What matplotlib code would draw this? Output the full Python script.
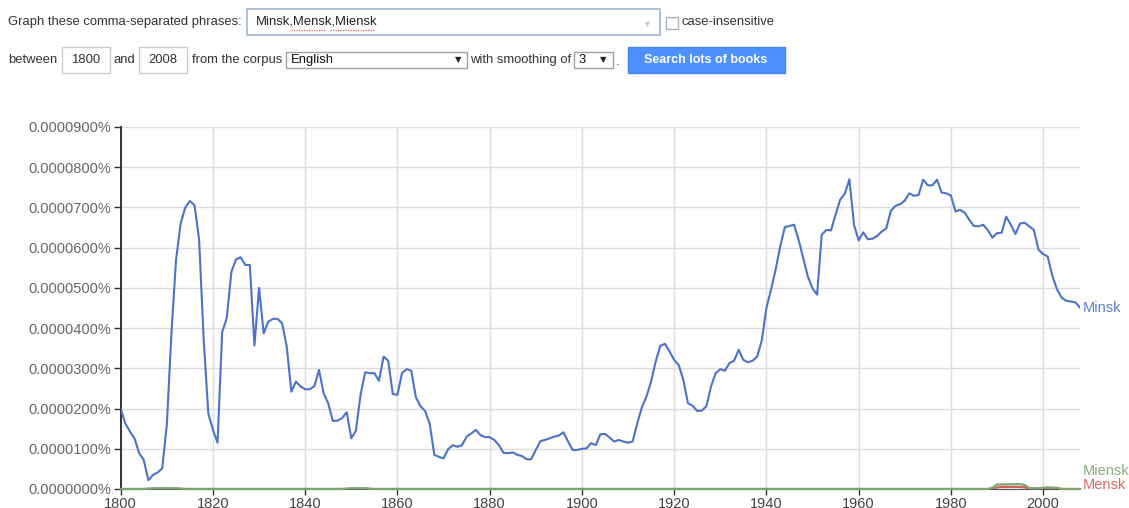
import matplotlib.pyplot as plt
from matplotlib.patches import Rectangle
from matplotlib.lines import Line2D

W, H = 1129, 508

# values in units of 0.00001 %
years = list(range(1800, 2009))
minsk = [2.0, 1.63, 1.43, 1.26, 0.89, 0.72, 0.22, 0.35, 0.41, 0.51,
         1.6, 3.87, 5.7, 6.6, 7.0, 7.16, 7.06, 6.2, 3.7, 1.88,
         1.47, 1.15, 3.9, 4.25, 5.4, 5.71, 5.76, 5.57, 5.57, 3.57,
         5.0, 3.87, 4.16, 4.23, 4.23, 4.12, 3.54, 2.42, 2.67, 2.55,
         2.48, 2.48, 2.56, 2.96, 2.38, 2.13, 1.69, 1.70, 1.76, 1.91,
         1.26, 1.45, 2.34, 2.9, 2.88, 2.88, 2.69, 3.29, 3.19, 2.36,
         2.34, 2.88, 2.98, 2.94, 2.28, 2.06, 1.94, 1.62, 0.85, 0.80,
         0.76, 0.99, 1.09, 1.05, 1.09, 1.30, 1.38, 1.47, 1.34, 1.29,
         1.29, 1.22, 1.09, 0.90, 0.89, 0.91, 0.85, 0.82, 0.74, 0.74,
         0.97, 1.19, 1.22, 1.26, 1.30, 1.33, 1.41, 1.18, 0.97, 0.97,
         1.0, 1.01, 1.14, 1.09, 1.36, 1.37, 1.28, 1.18, 1.22, 1.18,
         1.15, 1.18, 1.63, 2.03, 2.30, 2.67, 3.17, 3.56, 3.61, 3.42,
         3.21, 3.08, 2.71, 2.13, 2.07, 1.94, 1.95, 2.06, 2.55, 2.88,
         2.98, 2.94, 3.13, 3.19, 3.46, 3.21, 3.15, 3.19, 3.29, 3.69,
         4.5, 4.95, 5.45, 6.03, 6.51, 6.54, 6.57, 6.19, 5.74, 5.28,
         4.99, 4.83, 6.32, 6.44, 6.43, 6.82, 7.19, 7.34, 7.70, 6.57,
         6.18, 6.38, 6.21, 6.22, 6.29, 6.40, 6.48, 6.92, 7.04, 7.08,
         7.17, 7.35, 7.29, 7.31, 7.69, 7.55, 7.55, 7.69, 7.37, 7.35,
         7.30, 6.90, 6.94, 6.87, 6.69, 6.54, 6.53, 6.57, 6.44, 6.25,
         6.36, 6.37, 6.77, 6.57, 6.34, 6.60, 6.62, 6.53, 6.44, 5.95,
         5.84, 5.78, 5.30, 4.97, 4.76, 4.68, 4.66, 4.64, 4.51]

mensk_years = [1800, 1989, 1990, 1991, 1995, 1996, 1997, 1999, 2000, 2003, 2004, 2008]
mensk = [0.0, 0.0, 0.04, 0.05, 0.05, 0.04, 0.0, 0.0, 0.02, 0.02, 0.0, 0.0]

miensk_years = [1800, 1805, 1807, 1812, 1814, 1848, 1850, 1853, 1855,
                1988, 1989, 1990, 1995, 1996, 1997, 1999, 2001, 2003, 2004, 2008]
miensk = [0.0, 0.0, 0.02, 0.02, 0.0, 0.0, 0.02, 0.02, 0.0,
          0.0, 0.03, 0.11, 0.12, 0.1, 0.02, 0.02, 0.04, 0.03, 0.0, 0.0]

x_ticks = list(range(1800, 2001, 20))
y_ticks = list(range(0, 10))

BLUE = '#4a73c9'
RED = '#d0605a'
GREEN = '#7ea56f'

plt.rcParams['font.family'] = ['Liberation Sans', 'DejaVu Sans']

fig = plt.figure(figsize=(W / 100, H / 100), dpi=100)


def fx(x):
    return x / W


def fy(y):
    return 1 - y / H


def box(x0, y0, x1, y1, ec='#cccccc', fc='white', lw=1.0):
    fig.patches.append(Rectangle((fx(x0), fy(y1)), fx(x1) - fx(x0), fy(y0) - fy(y1),
                                 transform=fig.transFigure, ec=ec, fc=fc, lw=lw))


def txt(x, y, s, **kw):
    kw.setdefault('fontsize', 9.4)
    kw.setdefault('color', '#333333')
    kw.setdefault('va', 'center')
    fig.text(fx(x), fy(y), s, **kw)


# header form
txt(8, 22, 'Graph these comma-separated phrases:')
box(247, 9, 660, 35, ec='#9fb6d1', lw=1.2)
txt(256, 22, 'Minsk,Mensk,Miensk', color='#222222')
for x0, x1 in [(291, 326), (330, 374)]:
    fig.lines.append(Line2D([fx(x0), fx(x1)], [fy(30), fy(30)], transform=fig.transFigure,
                            color='#e06060', lw=0.9, ls=(0, (1, 1))))
txt(647, 23, '\u25be', color='#c8c8c8', fontsize=7, ha='center', family=['DejaVu Sans'])
box(666, 17, 678, 29, ec='#b0b0b0')
txt(682, 22, 'case-insensitive')

txt(8, 60, 'between')
box(62, 47, 110, 73)
txt(86, 60, '1800', ha='center')
txt(114, 60, 'and')
box(139, 47, 187, 73)
txt(163, 60, '2008', ha='center')
txt(192, 60, 'from the corpus')
box(286, 52, 467, 68, ec='#a0a0a0')
txt(291, 60, 'English', color='#111111')
txt(458, 60, '\u25bc', fontsize=6, ha='center', color='#222222', family=['DejaVu Sans'])
txt(470, 60, 'with smoothing of')
box(574, 52, 613, 68, ec='#a0a0a0')
txt(578, 60, '3', color='#111111')
txt(603, 60, '\u25bc', fontsize=6, ha='center', color='#222222', family=['DejaVu Sans'])
txt(616, 62, '.')
fig.patches.append(Rectangle((fx(628), fy(73)), fx(785) - fx(628), fy(47) - fy(73),
                             transform=fig.transFigure, ec='#4787ed', fc='#4d90fe', lw=1))
txt(706, 60, 'Search lots of books', ha='center', color='white', fontweight='bold', fontsize=9)

# chart
ax = fig.add_axes([fx(120.7), fy(489), fx(1080) - fx(120.7), fy(127) - fy(489)])
ax.plot(years, minsk, color=BLUE, lw=1.5, zorder=3)
ax.plot(mensk_years, mensk, color=RED, lw=1.6, zorder=3)
ax.plot(miensk_years, miensk, color=GREEN, lw=1.6, zorder=4, clip_on=False)

ax.set_xlim(1800, 2008)
ax.set_ylim(0, 9)
ax.set_xticks(x_ticks)
ax.set_yticks(y_ticks)
ax.set_yticklabels(['%.7f%%' % (v * 1e-5) for v in y_ticks])
ax.grid(True, color='#dddddd', lw=1)
ax.set_axisbelow(True)
for s in ['top', 'right']:
    ax.spines[s].set_visible(False)
ax.spines['left'].set_color('#333333')
ax.spines['left'].set_linewidth(1.4)
ax.spines['bottom'].set_color('#555555')
ax.tick_params(axis='y', length=5, width=1, color='#333333', labelsize=10.5,
               labelcolor='#666666', pad=2)
ax.tick_params(axis='x', length=4, width=1, color='#333333', labelsize=10.5,
               labelcolor='#444444', pad=2)

ax.annotate('Minsk', (2008, minsk[-1]), xytext=(3, 0), textcoords='offset pixels',
            color='#5b80d0', fontsize=10.5, va='center', annotation_clip=False)
ax.annotate('Miensk', (2008, 0.45), xytext=(3, 0), textcoords='offset pixels',
            color='#86ad78', fontsize=10.5, va='center', annotation_clip=False)
ax.annotate('Mensk', (2008, 0.1), xytext=(3, 0), textcoords='offset pixels',
            color='#d86a66', fontsize=10.5, va='center', annotation_clip=False)

fig.savefig('out.png', dpi=100)
